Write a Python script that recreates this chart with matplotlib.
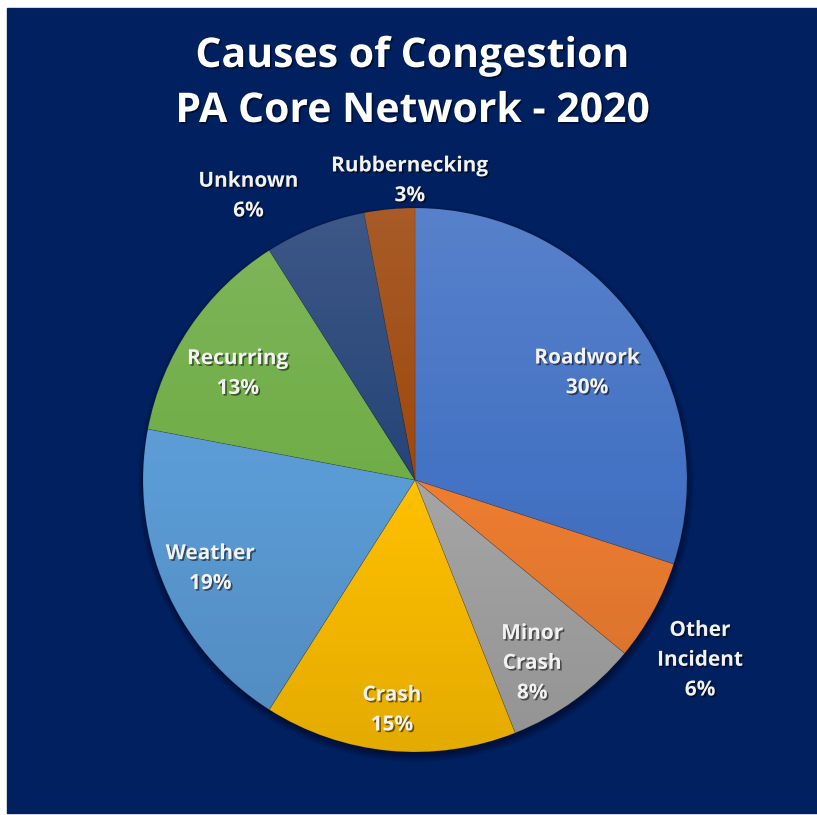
import matplotlib.pyplot as plt
import matplotlib.patheffects as pe
from matplotlib.patches import Circle, Rectangle
import numpy as np

# causes of congestion, share of delay (%)
causes = ["Roadwork", "Other\nIncident", "Minor\nCrash", "Crash",
          "Weather", "Recurring", "Unknown", "Rubbernecking"]
shares = [30, 6, 8, 15, 19, 13, 6, 3]
colors = ["#4472C4", "#ED7D31", "#A5A5A5", "#FFC000",
          "#5B9BD5", "#70AD47", "#264478", "#9E480E"]
# label placement: distance from centre (fraction of radius) and
# angular nudge (degrees) away from the wedge middle
label_dist = [0.745, 1.24, 0.80, 0.85, 0.82, 0.76, 1.21, 1.10]
label_nudge = [-4.1, -3.5, -3.4, -0.3, 0.0, 3.2, 8.8, -4.4]

W, H = 817, 815
NAVY = "#002060"
cx, cy, R = 415, H - 480, 272

plt.rcParams['font.family'] = ['Open Sans', 'DejaVu Sans']

fig = plt.figure(figsize=(W / 100, H / 100), dpi=100, facecolor="white")
ax = fig.add_axes([0, 0, 1, 1])

# navy panel
ax.add_patch(Rectangle((7, 2), W - 7, H - 10, color=NAVY, zorder=0))

# soft shadow under the pie
for i in range(8):
    ax.add_patch(Circle((cx + 1, cy - 4), R + 6 - i, color="black",
                        alpha=0.05, lw=0, zorder=1))

wedges, _ = ax.pie(shares, colors=colors, startangle=90, counterclock=False,
                   center=(cx, cy), radius=R, frame=True,
                   wedgeprops=dict(linewidth=0.6, edgecolor=(0, 0, 0, 0.15)))
for w in wedges:
    w.set_zorder(2)

# light-to-dark sheen over the pie
grad = np.zeros((256, 1, 4))
t = np.linspace(0, 1, 256)
grad[:, 0, :3] = np.where(t[:, None] < 0.5, 1.0, 0.0)
grad[:, 0, 3] = np.abs(0.5 - t) * 0.22
sheen = ax.imshow(grad, extent=[cx - R, cx + R, cy - R, cy + R],
                  origin="upper", aspect="auto", zorder=3)
sheen.set_clip_path(Circle((cx, cy), R, transform=ax.transData))

ax.set_xlim(0, W)
ax.set_ylim(0, H)
ax.set_aspect("equal")
ax.axis("off")

shadow = [pe.withSimplePatchShadow(offset=(1.2, -1.2), shadow_rgbFace="black",
                                   alpha=0.5)]

for w, name, val, d, nudge in zip(wedges, causes, shares, label_dist, label_nudge):
    mid = np.deg2rad((w.theta1 + w.theta2) / 2 + nudge)
    x = cx + d * R * np.cos(mid)
    y = cy + d * R * np.sin(mid)
    ax.text(x, y, f"{name}\n{val}%", ha="center", va="center",
            fontsize=15, fontweight="bold", color="#F2F2F2",
            linespacing=1.55, zorder=5, path_effects=shadow)

title_kw = dict(ha="center", va="baseline", fontsize=29.5, fontweight="bold",
                color="white", zorder=5, path_effects=shadow)
ax.text(413, H - 67, "Causes of Congestion", **title_kw)
ax.text(413, H - 122, "PA Core Network - 2020", **title_kw)

fig.savefig("out.png", dpi=100, facecolor="white")
